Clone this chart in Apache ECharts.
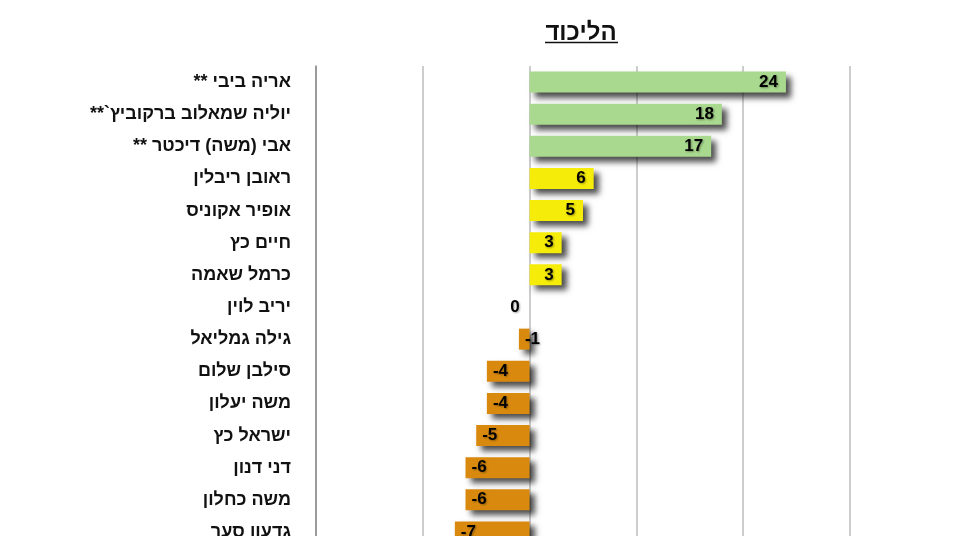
<!DOCTYPE html>
<html>
<head>
<meta charset="utf-8">
<script src="https://cdn.jsdelivr.net/npm/echarts@6/dist/echarts.min.js"></script>
<style>
html,body{margin:0;padding:0;background:#fff;}
#c{width:955px;height:536px;}
</style>
</head>
<body>
<div id="c"></div>
<script>
const title = 'הליכוד';
const categories = [
  'אריה ביבי **',
  'יוליה שמאלוב ברקוביץ`**',
  'אבי (משה) דיכטר **',
  'ראובן ריבלין',
  'אופיר אקוניס',
  'חיים כץ',
  'כרמל שאמה',
  'יריב לוין',
  'גילה גמליאל',
  'סילבן שלום',
  'משה יעלון',
  'ישראל כץ',
  'דני דנון',
  'משה כחלון',
  'גדעון סער'
];
const values = [24, 18, 17, 6, 5, 3, 3, 0, -1, -4, -4, -5, -6, -6, -7];
const groups = ['g', 'g', 'g', 'y', 'y', 'y', 'y', 'o', 'o', 'o', 'o', 'o', 'o', 'o', 'o'];
const groupColors = { g: '#a8d98e', y: '#f6ec0a', o: '#d98a0e' };

const chart = echarts.init(document.getElementById('c'));
const font = '"Liberation Sans", Arial, "DejaVu Sans", sans-serif';

const data = values.map((v, i) => ({
  value: v,
  itemStyle: { color: groupColors[groups[i]] },
  label: {
    position: v > 0 ? 'insideRight' : (v < 0 ? 'insideLeft' : 'left'),
    distance: v > 0 ? 8 : (v < 0 ? 6 : 10)
  }
}));

chart.setOption({
  animation: false,
  graphic: [{
    type: 'text',
    x: 581, y: 33,
    style: {
      text: title,
      align: 'center', verticalAlign: 'middle',
      font: 'bold 24px ' + font,
      fill: '#111'
    }
  }, {
    type: 'line',
    shape: { x1: 545, y1: 42.5, x2: 618, y2: 42.5 },
    style: { stroke: '#111', lineWidth: 1.5 }
  }],
  grid: { left: 316, right: 105, top: 66, height: 482, outerBoundsMode: 'none', containLabel: false },
  xAxis: {
    type: 'value',
    min: -20, max: 30, interval: 10,
    axisLabel: { show: false },
    axisTick: { show: false },
    axisLine: { show: false },
    splitLine: { show: true, lineStyle: { color: '#bdbdbd', width: 1.5 } }
  },
  yAxis: {
    type: 'category',
    inverse: true,
    data: categories,
    axisTick: { show: false },
    axisLine: { show: true, onZero: false, lineStyle: { color: '#8a8a8a', width: 1.5 } },
    axisLabel: {
      margin: 25,
      fontFamily: font, fontSize: 18, fontWeight: 'bold', color: '#111',
      formatter: v => '\u202B' + v + '\u202C'
    }
  },
  series: [{
    type: 'bar',
    data: data,
    barWidth: 21,
    itemStyle: {
      shadowColor: 'rgba(0,0,0,0.7)',
      shadowBlur: 6,
      shadowOffsetX: 5,
      shadowOffsetY: 5
    },
    label: {
      show: true,
      fontFamily: font, fontSize: 17, fontWeight: 'bold', color: '#000',
      textShadowColor: 'rgba(0,0,0,0.35)', textShadowBlur: 2,
      textShadowOffsetX: 1, textShadowOffsetY: 1
    }
  }]
});
</script>
</body>
</html>
